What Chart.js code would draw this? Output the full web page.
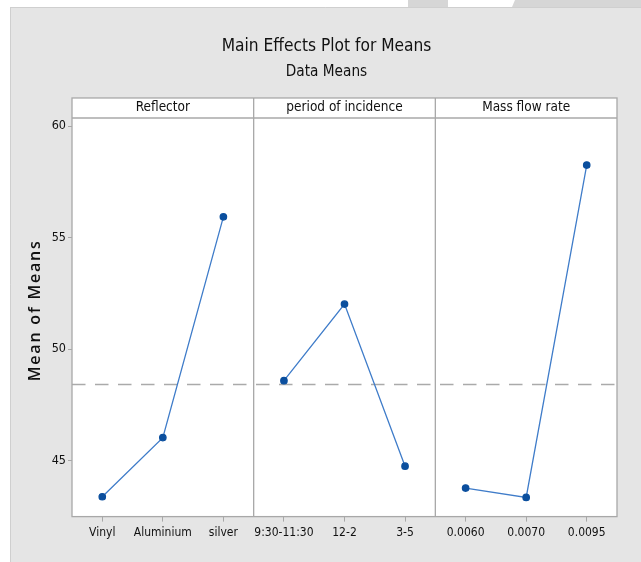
<!DOCTYPE html>
<html>
<head>
<meta charset="utf-8">
<script src="https://cdn.jsdelivr.net/npm/chart.js@4/dist/chart.umd.min.js"></script>
<style>
  html,body{margin:0;padding:0;background:#fff;}
  #wrap{position:relative;width:641px;height:562px;}
</style>
</head>
<body>
<div id="wrap"><canvas id="c" width="641" height="562"></canvas></div>
<script>
// ---- data ----
const factors = ["Reflector", "period of incidence", "Mass flow rate"];
const reflectorLevels = ["Vinyl", "Aluminium", "silver"];
const reflectorMeans = [43.39, 46.04, 55.93];
const periodLevels = ["9:30-11:30", "12-2", "3-5"];
const periodMeans = [48.59, 52.02, 44.76];
const flowLevels = ["0.0060", "0.0070", "0.0095"];
const flowMeans = [43.78, 43.36, 58.25];
const yTicks = [45, 50, 55, 60];
const yTitle = "Mean of Means";

const FONT = "'Liberation Sans Narrow', 'DejaVu Sans Condensed', 'Liberation Sans', sans-serif";
const labels = [...reflectorLevels, ...periodLevels, ...flowLevels];
const groups = [reflectorMeans, periodMeans, flowMeans];
const allVals = [].concat(...groups);
const grandMean = allVals.reduce((a, b) => a + b, 0) / allVals.length;

function padded(vals, g) {
  const arr = new Array(labels.length).fill(null);
  vals.forEach((v, i) => arr[g * 3 + i] = v);
  return arr;
}

const datasets = groups.map((vals, g) => ({
  label: factors[g],
  data: padded(vals, g),
  borderColor: '#3f7cc9',
  borderWidth: 1.3,
  pointBackgroundColor: '#0b4f9e',
  pointBorderColor: '#0b4f9e',
  pointRadius: 3.2,
  pointHoverRadius: 3.2,
  spanGaps: false,
  tension: 0
}));

const GRID = '#a8a8a8';

const decor = {
  id: 'decor',
  beforeDraw(chart) {
    const ctx = chart.ctx, a = chart.chartArea;
    ctx.save();
    // outer grey panel
    ctx.fillStyle = '#e5e5e5';
    ctx.fillRect(10, 7, chart.width - 10, chart.height - 7);
    ctx.fillStyle = '#d6d6d6';
    ctx.fillRect(408, 0, 40, 7);
    ctx.beginPath();
    ctx.moveTo(515, 0); ctx.lineTo(641, 0); ctx.lineTo(641, 7); ctx.lineTo(512, 7); ctx.closePath();
    ctx.fill();
    ctx.strokeStyle = '#cfcfcf';
    ctx.lineWidth = 1;
    ctx.beginPath(); ctx.moveTo(10, 7.5); ctx.lineTo(641, 7.5); ctx.stroke();
    ctx.beginPath(); ctx.moveTo(10.5, 7); ctx.lineTo(10.5, 562); ctx.stroke();
    // white plot + header
    const hTop = a.top - 20;
    ctx.fillStyle = '#ffffff';
    ctx.fillRect(a.left, hTop, a.right - a.left, a.bottom - hTop);
    ctx.restore();
  },
  beforeDatasetsDraw(chart) {
    const ctx = chart.ctx, a = chart.chartArea;
    const x = chart.scales.x, y = chart.scales.y;
    const hTop = a.top - 20;
    ctx.save();
    // mean reference line
    const ym = Math.round(y.getPixelForValue(grandMean)) + 0.5;
    ctx.strokeStyle = '#aaaaaa';
    ctx.lineWidth = 1.4;
    ctx.setLineDash([13.5, 9.5]);
    ctx.beginPath(); ctx.moveTo(a.left, ym); ctx.lineTo(a.right, ym); ctx.stroke();
    ctx.setLineDash([]);
    // borders
    ctx.strokeStyle = GRID;
    ctx.lineWidth = 1.3;
    ctx.strokeRect(a.left, hTop, a.right - a.left, a.bottom - hTop);
    ctx.beginPath(); ctx.moveTo(a.left, a.top); ctx.lineTo(a.right, a.top); ctx.stroke();
    // panel dividers and header texts
    const edges = [a.left];
    for (let g = 1; g < 3; g++) {
      const xd = (x.getPixelForValue(g * 3 - 1) + x.getPixelForValue(g * 3)) / 2;
      edges.push(xd);
      ctx.beginPath(); ctx.moveTo(xd, hTop); ctx.lineTo(xd, a.bottom); ctx.stroke();
    }
    edges.push(a.right);
    ctx.fillStyle = '#111';
    ctx.font = '13.5px ' + FONT;
    ctx.textAlign = 'center';
    ctx.textBaseline = 'middle';
    factors.forEach((f, g) => ctx.fillText(f, (edges[g] + edges[g + 1]) / 2, hTop + 10));
    // y title with letter spacing
    ctx.translate(35, (a.top + a.bottom) / 2 - 7);
    ctx.rotate(-Math.PI / 2);
    ctx.font = '600 16px "Open Sans", "DejaVu Sans", sans-serif';
    ctx.letterSpacing = '1.8px';
    ctx.fillStyle = '#111';
    ctx.fillText(yTitle, 0, 0);
    ctx.restore();
  }
};

new Chart(document.getElementById('c'), {
  type: 'line',
  data: { labels, datasets },
  plugins: [decor],
  options: {
    responsive: false,
    animation: false,
    events: [],
    layout: { padding: { left: 36, right: 24, top: 10, bottom: 18 } },
    plugins: {
      legend: { display: false },
      tooltip: { enabled: false },
      title: {
        display: true,
        text: 'Main Effects Plot for Means',
        color: '#111',
        font: { family: FONT, size: 17.2, weight: 'normal', lineHeight: 1.2 },
        padding: { top: 26, bottom: 0 }
      },
      subtitle: {
        display: true,
        text: 'Data Means',
        color: '#111',
        font: { family: FONT, size: 15.2, weight: 'normal', lineHeight: 1.2 },
        padding: { top: 6, bottom: 37.1 }
      }
    },
    scales: {
      x: {
        type: 'category',
        offset: true,
        grid: { drawOnChartArea: false, drawTicks: true, tickLength: 5, color: GRID, offset: false },
        border: { display: false },
        ticks: { color: '#111', font: { family: FONT, size: 12 }, padding: 4, maxRotation: 0, autoSkip: false }
      },
      y: {
        min: 42.5,
        max: 60.36,
        afterBuildTicks: s => { s.ticks = yTicks.map(v => ({ value: v })); },
        afterFit: s => { s.width = 36; },
        grid: { drawOnChartArea: false, drawTicks: true, tickLength: 4, color: GRID },
        border: { display: false },
        ticks: { color: '#111', font: { family: FONT, size: 12.5 }, padding: 2 }
      }
    }
  }
});
</script>
</body>
</html>
